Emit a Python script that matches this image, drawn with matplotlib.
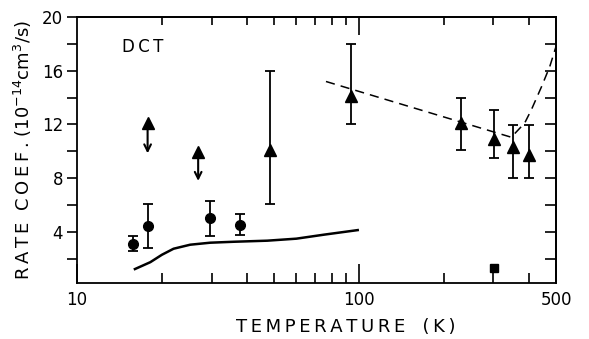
import matplotlib
matplotlib.use("Agg")
import matplotlib.pyplot as plt
from matplotlib.ticker import FixedLocator, NullFormatter, FuncFormatter

# --- data ---
circ_T = [15.8, 17.8, 29.7, 37.8]
circ_k = [3.1, 4.45, 5.05, 4.5]
circ_lo = [2.6, 2.8, 3.7, 3.75]
circ_hi = [3.7, 6.1, 6.3, 5.3]

tri_T = [48.3, 94, 231, 302, 351, 402]
tri_k = [10.1, 14.1, 12.1, 10.9, 10.35, 9.75]
tri_lo = [6.05, 12.05, 10.1, 9.5, 8.0, 8.05]
tri_hi = [16.0, 18.0, 13.95, 13.05, 11.95, 11.95]

lim_T = [17.8, 26.9]
lim_k = [12.1, 9.95]
lim_to = [9.85, 7.8]

sq_T = [302]
sq_k = [1.28]

theory_T = [15.9, 18.2, 20.0, 22.0, 25.2, 29.7, 36.0, 47.3, 60.0, 75.3, 100.0]
theory_k = [1.2, 1.75, 2.3, 2.75, 3.05, 3.2, 3.27, 3.35, 3.5, 3.8, 4.15]

dash_T = [76.4, 347, 387, 409, 444, 475, 500]
dash_k = [15.2, 11.05, 12.1, 13.1, 14.8, 16.3, 17.8]

x_labels = [10, 100, 500]
x_minor = [20, 30, 40, 50, 60, 70, 80, 90, 200, 300, 400]
y_ticks = [2, 4, 6, 8, 10, 12, 14, 16, 18, 20]

TS = "\u2009"  # thin space for letter spacing


def spaced(s):
    return TS.join(s)


fig = plt.figure(figsize=(5.89, 3.39), dpi=100)
ax = fig.add_axes([77/589, 1-283/339, (556-77)/589, (283-17)/339])
ax.set_xscale("log")
ax.set_xlim(10, 500)
ax.set_ylim(0.2, 20)

lw = 1.3
ax.plot(theory_T, theory_k, color="black", lw=1.8, solid_capstyle="butt")
ax.plot(dash_T, dash_k, color="black", lw=1.1, ls=(0, (6, 4)))

ax.errorbar(circ_T, circ_k,
            yerr=[[k - l for k, l in zip(circ_k, circ_lo)], [h - k for k, h in zip(circ_k, circ_hi)]],
            fmt="o", color="black", ms=7, capsize=3.5, elinewidth=lw, capthick=lw)
ax.errorbar(tri_T, tri_k,
            yerr=[[k - l for k, l in zip(tri_k, tri_lo)], [h - k for k, h in zip(tri_k, tri_hi)]],
            fmt="^", color="black", ms=8, capsize=3.5, elinewidth=lw, capthick=lw)
ax.plot(lim_T, lim_k, "^", color="black", ms=8)
for t, k, e in zip(lim_T, lim_k, lim_to):
    ax.annotate("", xy=(t, e), xytext=(t, k - 0.3),
                arrowprops=dict(arrowstyle="->", color="black", lw=1.5,
                                mutation_scale=12, shrinkA=0, shrinkB=0))
ax.plot(sq_T, sq_k, "s", color="black", ms=6)

ax.text(14.5, 17.8, spaced("DCT"), fontsize=12, va="center", ha="left")

# x axis ticks
ax.xaxis.set_major_locator(FixedLocator(x_labels))
ax.xaxis.set_major_formatter(FuncFormatter(lambda v, p: f"{v:g}"))
ax.xaxis.set_minor_locator(FixedLocator(x_minor))
ax.xaxis.set_minor_formatter(NullFormatter())
ax.tick_params(axis="x", which="major", direction="in", length=14, width=1.2,
               labelsize=12, pad=6)
ax.tick_params(axis="x", which="minor", direction="in", length=7, width=1.2)

# y axis ticks
ax.yaxis.set_major_locator(FixedLocator(y_ticks))
ax.yaxis.set_major_formatter(FuncFormatter(lambda v, p: f"{v:g}" if round(v) % 4 == 0 else ""))
ax.tick_params(axis="y", which="major", direction="out", length=7, width=1.2,
               labelsize=12, pad=3)

# top & right inward ticks
top = ax.secondary_xaxis("top")
top.xaxis.set_major_locator(FixedLocator([100]))
top.xaxis.set_minor_locator(FixedLocator(x_minor))
top.xaxis.set_major_formatter(NullFormatter())
top.xaxis.set_minor_formatter(NullFormatter())
top.tick_params(which="major", direction="in", length=13, width=1.2)
top.tick_params(which="minor", direction="in", length=6, width=1.2)

right = ax.secondary_yaxis("right")
right.yaxis.set_major_locator(FixedLocator(y_ticks))
right.yaxis.set_major_formatter(NullFormatter())
right.tick_params(direction="in", length=8, width=1.2)

for s in ax.spines.values():
    s.set_linewidth(1.3)
for s in list(top.spines.values()) + list(right.spines.values()):
    s.set_linewidth(1.3)

ax.set_xlabel(spaced("TEMPERATURE") + "   " + spaced("(K)"), fontsize=13, labelpad=6)
ax.xaxis.set_label_coords(0.562, -0.13)
ax.set_ylabel(spaced("RATE") + "  " + spaced("COEF.") + r" (10$^{-14}$cm$^{3}$/s)",
              fontsize=13, labelpad=6)

fig.savefig("out.png", dpi=100)
